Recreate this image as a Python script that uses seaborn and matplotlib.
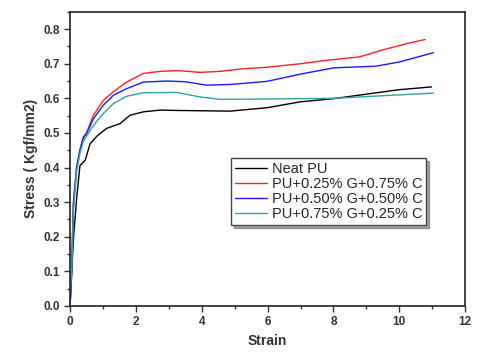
import pandas as pd
import matplotlib
matplotlib.use('Agg')
import matplotlib.pyplot as plt
import seaborn as sns
from matplotlib.ticker import MultipleLocator

# series
neat_x = [0, 0.05, 0.1, 0.2, 0.3, 0.46, 0.61, 0.81, 0.91, 1.11, 1.52, 1.82, 2.23, 2.74, 3.2,
          4.86, 6.0, 7.0, 8.0, 9.0, 10.0, 10.98]
neat_y = [0, 0.09, 0.19, 0.31, 0.405, 0.421, 0.469, 0.49, 0.498, 0.513, 0.527, 0.551, 0.561,
          0.566, 0.565, 0.563, 0.573, 0.59, 0.599, 0.612, 0.625, 0.633]

g25_x = [0, 0.05, 0.1, 0.2, 0.3, 0.4, 0.5, 0.71, 1.01, 1.32, 1.72, 2.23, 2.74, 3.3, 3.95,
         4.56, 5.2, 6.0, 7.0, 7.8, 8.8, 9.5, 10.3, 10.79]
g25_y = [0, 0.12, 0.297, 0.402, 0.45, 0.488, 0.5, 0.551, 0.594, 0.619, 0.647, 0.672, 0.678,
         0.68, 0.675, 0.678, 0.685, 0.69, 0.70, 0.71, 0.72, 0.74, 0.76, 0.77]

g50_x = [0, 0.05, 0.1, 0.2, 0.3, 0.4, 0.5, 0.71, 1.01, 1.32, 1.72, 2.23, 2.94, 3.5, 4.15,
         4.86, 5.98, 7.0, 8.0, 9.3, 10.0, 11.04]
g50_y = [0, 0.1, 0.29, 0.40, 0.45, 0.485, 0.497, 0.541, 0.58, 0.609, 0.628, 0.647, 0.65,
         0.648, 0.638, 0.64, 0.649, 0.67, 0.688, 0.693, 0.705, 0.732]

g75_x = [0, 0.05, 0.1, 0.2, 0.3, 0.4, 0.5, 0.71, 1.01, 1.32, 1.72, 2.23, 3.24, 3.95, 4.56,
         6.0, 8.0, 10.0, 11.04]
g75_y = [0.03, 0.1, 0.27, 0.39, 0.44, 0.475, 0.49, 0.522, 0.556, 0.585, 0.606, 0.616, 0.617,
         0.604, 0.597, 0.598, 0.60, 0.61, 0.615]

labels = ['Neat PU', 'PU+0.25% G+0.75% C', 'PU+0.50% G+0.50% C', 'PU+0.75% G+0.25% C']
colors = ['black', '#ff2020', '#1a1aff', '#2aa5a0']

frames = []
for lab, xs, ys in zip(labels, [neat_x, g25_x, g50_x, g75_x], [neat_y, g25_y, g50_y, g75_y]):
    frames.append(pd.DataFrame({'Strain': xs, 'Stress': ys, 'Sample': lab}))
df = pd.concat(frames, ignore_index=True)

sns.set_style('ticks')
plt.rcParams['font.family'] = ['Liberation Sans', 'DejaVu Sans']

fig = plt.figure(figsize=(4.83, 3.59), dpi=100)
ax = fig.add_axes([0.145, 0.148, 0.818, 0.819])
sns.lineplot(data=df, x='Strain', y='Stress', hue='Sample', palette=colors,
             sort=False, estimator=None, linewidth=1.0, ax=ax)

ax.set_xlim(0, 12)
ax.set_ylim(0, 0.85)
ax.xaxis.set_major_locator(MultipleLocator(2))
ax.xaxis.set_minor_locator(MultipleLocator(1))
ax.yaxis.set_major_locator(MultipleLocator(0.1))
ax.yaxis.set_minor_locator(MultipleLocator(0.05))
ax.tick_params(which='major', length=4, width=1, labelsize=8.5, colors='#333333',
               labelcolor='#333333')
ax.tick_params(which='minor', length=2.5, width=1, colors='#333333')
for lab in ax.get_xticklabels() + ax.get_yticklabels():
    lab.set_fontweight('bold')
for s in ax.spines.values():
    s.set_linewidth(1.2)
    s.set_color('#222222')

ax.set_xlabel('Strain', fontsize=10, fontweight='bold', color='#333333')
ax.set_ylabel('Stress ( Kgf/mm2)', fontsize=10, fontweight='bold', color='#333333')

leg = ax.legend(loc='upper left', bbox_to_anchor=(0.39, 0.527), fontsize=10.5,
                frameon=True, fancybox=False, shadow=True, handlelength=2.2,
                borderpad=0.25, labelspacing=0.08, handletextpad=0.3)
leg.get_frame().set_edgecolor('#444444')
leg.get_frame().set_linewidth(1.0)

fig.savefig('out.png', dpi=100)
